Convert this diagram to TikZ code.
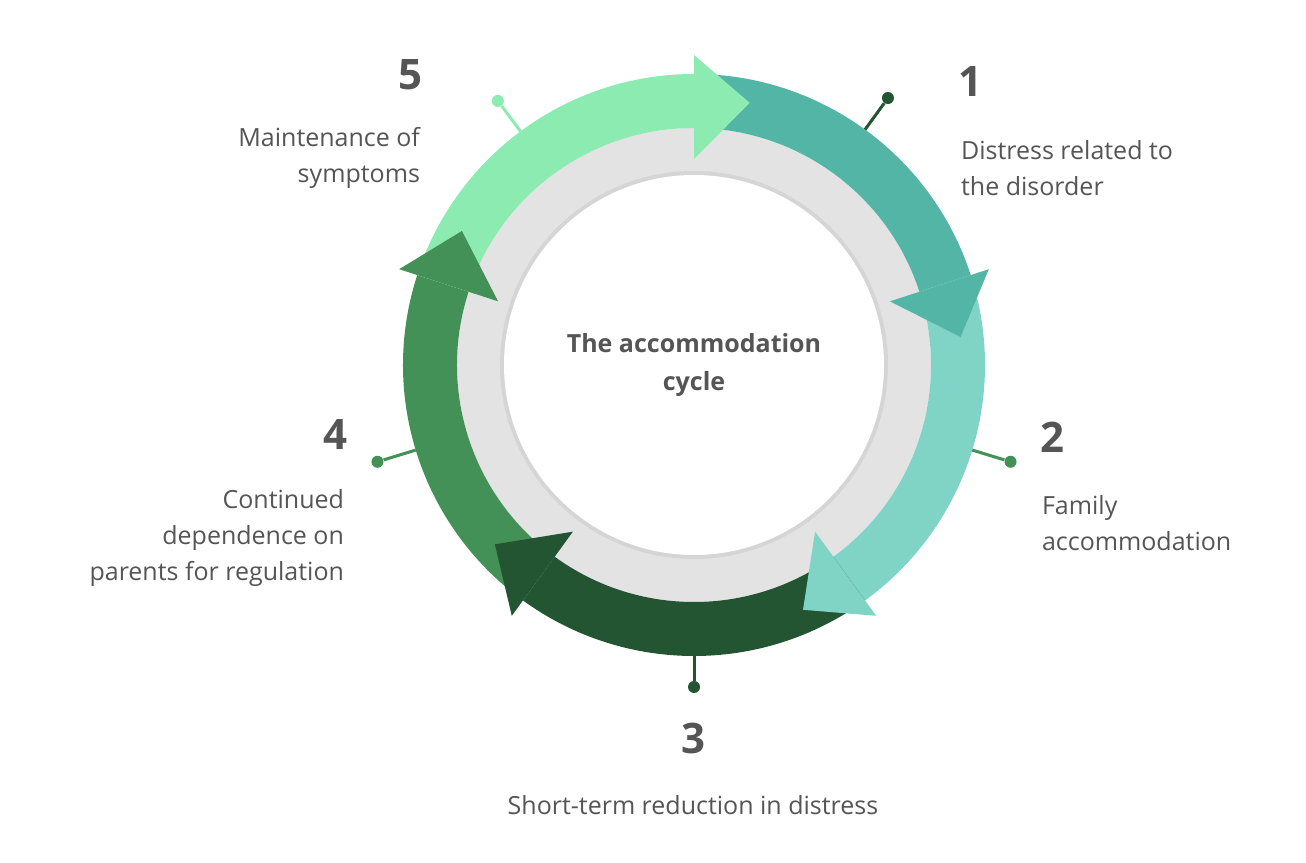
\documentclass[tikz,border=0pt]{standalone}
\usepackage{fontspec}
\setmainfont{Open Sans}
\usetikzlibrary{calc}
\definecolor{cA}{HTML}{52B5A5}
\definecolor{cB}{HTML}{80D4C6}
\definecolor{cC}{HTML}{235532}
\definecolor{cD}{HTML}{439157}
\definecolor{cE}{HTML}{8BEBB0}
\definecolor{txt}{HTML}{555555}
\definecolor{ring}{HTML}{E3E3E3}
\begin{document}
\begin{tikzpicture}[x=0.5pt,y=0.5pt,
  num/.style={font=\fontsize{21}{24}\selectfont\bfseries,text=txt},
  lab/.style={font=\fontsize{12.5}{18}\selectfont,text=txt},
  dot/.style={circle,inner sep=0pt,minimum size=6pt}]
\useasboundingbox (0,0) rectangle (1306,862);
\fill[white] (0,0) rectangle (1306,862);
\coordinate (c) at (694,497);
\fill[ring] (c) circle[radius=237];
\fill[black,opacity=0.06] (c) circle[radius=194];
\fill[white] (c) circle[radius=190];
% bodies
\foreach \s/\col in {90/cA,18/cB,-54/cC,-126/cD,-198/cE}{
  \pgfmathsetmacro{\e}{\s-72}
  \fill[\col] ($(c)+(\s:291)$) arc[start angle=\s,end angle=\e,radius=291]
    -- ($(c)+(\e:237)$) arc[start angle=\e,end angle=\s,radius=237] -- cycle;
}
% heads
\foreach \s/\col in {90/cA,18/cB,-54/cC,-126/cD,-198/cE}{
  \pgfmathsetmacro{\e}{\s-72}
  \pgfmathsetmacro{\t}{\s-84}
  \fill[\col] ($(c)+(\e:206)$) -- ($(c)+(\e:310)$) -- ($(c)+(\t:268)$) -- cycle;
}
% markers
\foreach \n/\a/\r/\col in {1/54/330/cC,2/-17/331/cD,3/-90/322/cC,4/197/331/cD,5/126.6/329/cE}{
  \coordinate (r\n) at ($(c)+(\a:291)$);
  \node[dot,fill=\col] (d\n) at ($(c)+(\a:\r)$) {};
  \draw[\col,line width=1.5pt] (r\n) -- (d\n);
}
\node[font=\fontsize{12.5}{19}\selectfont\bfseries,text=txt,align=center] (title) at (694,497) {The accommodation\\cycle};
\node[num] (n5) at (410,787) {5};
\node[lab,align=right,anchor=east] (t5) at (427,704) {Maintenance of\\symptoms};
\node[num] (n1) at (970,780) {1};
\node[lab,align=left,anchor=west] (t1) at (954,694) {Distress related to\\the disorder};
\node[num] (n2) at (1052,425) {2};
\node[lab,align=left,anchor=west] (t2) at (1035,339) {Family\\accommodation};
\node[num] (n3) at (693,124) {3};
\node[lab] (t3) at (693,57) {Short-term reduction in distress};
\node[num] (n4) at (335,427) {4};
\node[lab,align=right,anchor=east] (t4) at (351,324) {Continued\\dependence on\\parents for regulation};
\end{tikzpicture}
\end{document}
